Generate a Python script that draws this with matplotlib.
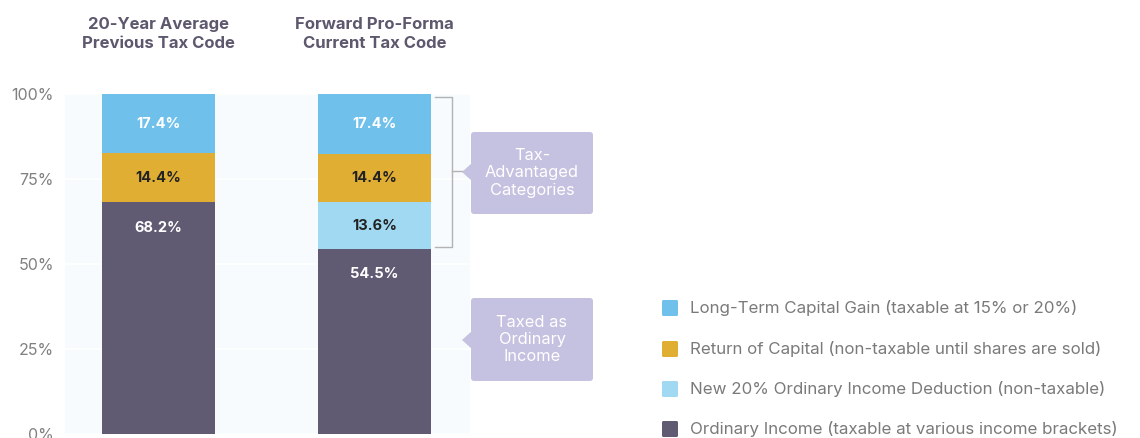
import matplotlib
matplotlib.use("Agg")
import matplotlib.pyplot as plt
from matplotlib.patches import FancyBboxPatch, Polygon
import numpy as np

plt.rcParams["font.family"] = ["Inter", "DejaVu Sans"]

# data
bar_titles = ["20-Year Average\nPrevious Tax Code", "Forward Pro-Forma\nCurrent Tax Code"]
series_names = [
    "Ordinary Income (taxable at various income brackets)",
    "New 20% Ordinary Income Deduction (non-taxable)",
    "Return of Capital (non-taxable until shares are sold)",
    "Long-Term Capital Gain (taxable at 15% or 20%)",
]
ordinary = [68.2, 54.5]
new_deduction = [0.0, 13.6]
return_capital = [14.4, 14.4]
ltcg = [17.4, 17.4]
y_ticks = [0, 25, 50, 75, 100]
y_tick_labels = ["0%", "25%", "50%", "75%", "100%"]
callout_texts = ["Tax-\nAdvantaged\nCategories", "Taxed as\nOrdinary\nIncome"]

colors = ["#605a72", "#a1d8f2", "#e1ae34", "#6fc1ec"]
label_colors = ["white", "#222222", "#222222", "white"]
title_color = "#5d586e"
tick_color = "#808080"
callout_color = "#c5c1e0"

W, H = 1140, 438
fig = plt.figure(figsize=(W / 100, H / 100), dpi=100, facecolor="white")


def px_rect(x0, y0, x1, y1):
    return [x0 / W, 1 - y1 / H, (x1 - x0) / W, (y1 - y0) / H]


ax = fig.add_axes(px_rect(65, 94, 470, 434))
ax.set_facecolor("#f7fbfd")

x = np.arange(len(bar_titles))
stack = [ordinary, new_deduction, return_capital, ltcg]
bottom = np.zeros(len(x))
for vals, color, lc in zip(stack, colors, label_colors):
    vals = np.array(vals)
    ax.bar(x, vals, 0.523, bottom=bottom, color=color, zorder=3)
    for xi, b, v in zip(x, bottom, vals):
        if v <= 0:
            continue
        if v > 40:
            ty = b + v - 7.5
        else:
            ty = b + v / 2
        ax.text(xi, ty, f"{v:.1f}%", ha="center", va="center", color=lc,
                fontsize=10.5, fontweight="bold", zorder=4)
    bottom = bottom + vals

ax.set_xlim(-0.433, 1.442)
ax.set_ylim(0, 100)
ax.set_yticks(y_ticks)
ax.set_yticklabels(y_tick_labels)
ax.set_xticks([])
ax.tick_params(axis="y", length=0, pad=8, labelsize=11.5, labelcolor=tick_color)
ax.grid(axis="y", color="white", linewidth=1.2, zorder=1)
ax.set_axisbelow(True)
for s in ax.spines.values():
    s.set_visible(False)

for xi, t in zip(x, bar_titles):
    ax.text(xi, 1.0 + 43 / 340, t, transform=ax.get_xaxis_transform(), ha="center", va="bottom",
            fontsize=12, fontweight="bold", color=title_color, linespacing=1.3)

# bracket over the tax-advantaged part of bar 2
top = 100.0
low = ordinary[1]
bx0, bx1, bx2 = 1.280, 1.359, 1.410
ax.plot([bx0, bx1, bx1, bx0], [top - 0.8, top - 0.8, low + 0.6, low + 0.6],
        color="#b3b3b3", lw=1, clip_on=False, zorder=5)
ax.plot([bx1, bx2], [(top + low) / 2, (top + low) / 2], color="#b3b3b3", lw=1,
        clip_on=False, zorder=5)

# overlay for callouts and legend
ov = fig.add_axes([0, 0, 1, 1], facecolor="none")
ov.set_xlim(0, W)
ov.set_ylim(H, 0)
ov.axis("off")

boxes = [(132, 214, 172), (298, 381, 340)]
for (y0, y1, yp), txt in zip(boxes, callout_texts):
    ov.add_patch(FancyBboxPatch((471, y0), 122, y1 - y0, boxstyle="round,pad=0,rounding_size=3",
                                fc=callout_color, ec="none"))
    ov.add_patch(Polygon([[472, yp - 9], [462, yp], [472, yp + 9]], closed=True,
                         fc=callout_color, ec="none"))
    ov.text(532, (y0 + y1) / 2, txt, ha="center", va="center", color="white",
            fontsize=11.8, linespacing=1.2)

legend_rows = [(3, 308), (2, 349), (1, 389), (0, 429)]
for idx, ly in legend_rows:
    ov.add_patch(FancyBboxPatch((662, ly - 8), 16, 16, boxstyle="round,pad=0,rounding_size=1.5",
                                fc=colors[idx], ec="none"))
    ov.text(690, ly, series_names[idx], ha="left", va="center", color="#7a7a7a",
            fontsize=12.2)

fig.savefig("out.png", dpi=100, facecolor="white")
